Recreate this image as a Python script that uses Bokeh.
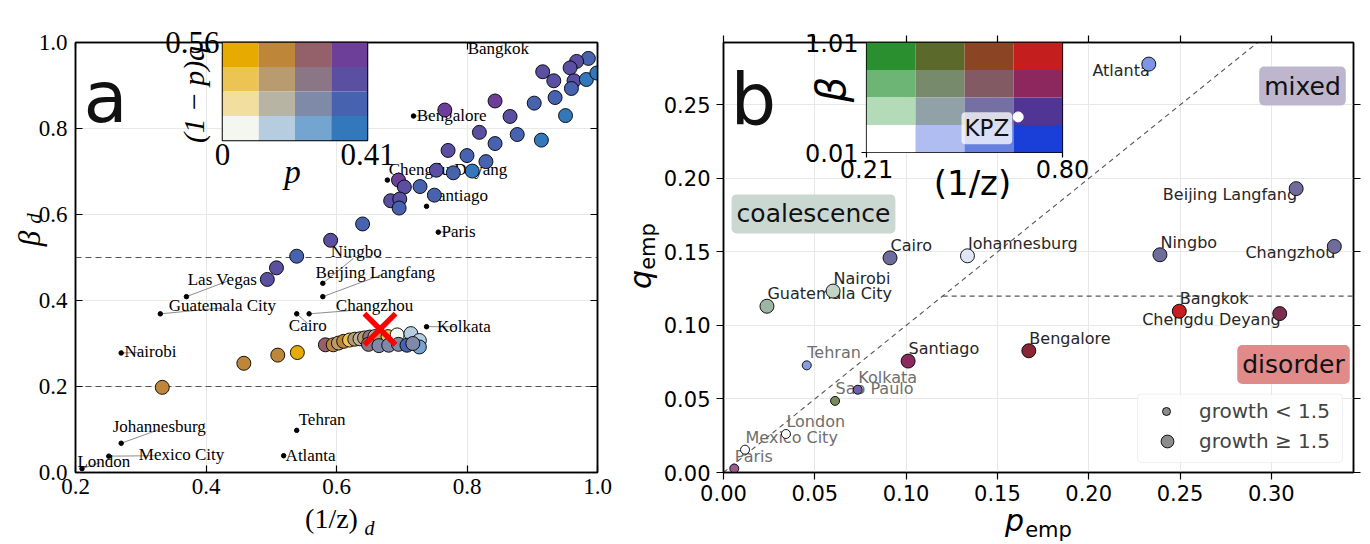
import numpy as np
from bokeh.plotting import figure
from bokeh.models import (ColumnDataSource, FixedTicker, PrintfTickFormatter, LinearAxis,
                          Label, Legend, LegendItem, BoxAnnotation, Span, GridBox, Range1d,
                          CustomLabelingPolicy)
from bokeh.core.properties import value
from bokeh.embed import file_html
from bokeh.resources import INLINE

SERIF = "Liberation Serif"
SANS = "DejaVu Sans"

# ---------------- palettes (rows: top -> bottom, cols: left -> right) ----------------
pal_a_rows = [
    ["#e6aa00", "#bd8639", "#94616a", "#6d3f98"],
    ["#ebc453", "#b89b6e", "#8a7685", "#5a4fa0"],
    ["#f2dfa0", "#b8b4a4", "#7e8aa8", "#4762ae"],
    ["#f4f6f0", "#b6cde0", "#74a4d0", "#3378ba"],
]
pal_b_rows = [
    ["#2a8f2e", "#5b6a2a", "#8b4524", "#c41e1e"],
    ["#6db574", "#788a6c", "#825a63", "#8c285e"],
    ["#b4dbb8", "#91a1a8", "#7470a3", "#513594"],
    ["#ffffff", "#b0bdf0", "#6680e0", "#1a3fd8"],
]

# ---------------- panel a data ----------------
a_inv_z = [0.986, 0.968, 0.958, 0.916, 0.933, 0.964, 0.983, 0.999, 0.960, 0.935, 0.903, 0.843,
           0.766, 0.866, 0.951, 0.819, 0.877, 0.843, 0.914, 0.771, 0.800, 0.829, 0.753, 0.779,
           0.808, 0.695, 0.704, 0.728, 0.683, 0.697, 0.696, 0.750, 0.640, 0.591, 0.539, 0.508,
           0.494,
           0.540, 0.510, 0.458, 0.333,
           0.583, 0.595, 0.603, 0.611, 0.620, 0.628, 0.636, 0.643, 0.651, 0.659, 0.666, 0.679,
           0.693, 0.714, 0.727, 0.727, 0.649, 0.665, 0.680, 0.695, 0.708, 0.717]
a_beta = [0.963, 0.956, 0.941, 0.932, 0.911, 0.911, 0.914, 0.929, 0.893, 0.872, 0.859, 0.864,
          0.843, 0.828, 0.830, 0.791, 0.786, 0.765, 0.773, 0.749, 0.737, 0.723, 0.703, 0.697,
          0.701, 0.680, 0.664, 0.665, 0.632, 0.636, 0.615, 0.645, 0.578, 0.540, 0.503, 0.476,
          0.449,
          0.279, 0.273, 0.254, 0.198,
          0.297, 0.297, 0.301, 0.305, 0.308, 0.310, 0.311, 0.313, 0.315, 0.316, 0.316, 0.316,
          0.320, 0.323, 0.307, 0.292, 0.298, 0.295, 0.296, 0.298, 0.296, 0.300]
a_bin = ["34", "24", "24", "24", "24", "24", "44", "44", "34", "34", "34", "14",
         "14", "24", "44", "24", "34", "34", "44", "24", "34", "34", "24", "34",
         "44", "14", "24", "34", "24", "24", "34", "34", "34", "24", "34", "24",
         "24",
         "11", "12", "12", "12",
         "13", "12", "22", "12", "21", "22", "32", "22", "23", "32", "22", "21",
         "41", "42", "42", "43", "23", "33", "33", "33", "34", "33"]

a_city = ["Bangkok", "Bengalore", "Chengdu Deyang", "Santiago", "Paris", "Ningbo",
          "Beijing Langfang", "Las Vegas", "Guatemala City", "Changzhou", "Cairo", "Kolkata",
          "Nairobi", "Tehran", "Johannesburg", "Mexico City", "Atlanta", "London"]
a_city_x = [0.800, 0.718, 0.678, 0.738, 0.756, 0.579, 0.579, 0.370, 0.330, 0.558, 0.539, 0.738,
            0.270, 0.539, 0.270, 0.251, 0.519, 0.210]
a_city_y = [1.005, 0.829, 0.680, 0.619, 0.559, 0.440, 0.409, 0.409, 0.369, 0.369, 0.369, 0.339,
            0.278, 0.098, 0.068, 0.038, 0.039, 0.009]
a_label_x = [0.801, 0.723, 0.680, 0.741, 0.761, 0.591, 0.568, 0.372, 0.343, 0.599, 0.527, 0.754,
             0.275, 0.542, 0.257, 0.297, 0.522, 0.203]
a_label_y = [0.986, 0.830, 0.705, 0.645, 0.560, 0.514, 0.465, 0.449, 0.389, 0.389, 0.341, 0.339,
             0.281, 0.124, 0.108, 0.042, 0.039, 0.025]
a_leader_x = [0.800, 0.745, 0.678, 0.738, 0.778, 0.626, 0.668, 0.433, 0.427, 0.642, 0.556, 0.783,
              0.300, 0.539, 0.330, 0.323, 0.519, 0.238]
a_leader_y = [1.005, 0.830, 0.680, 0.619, 0.560, 0.498, 0.459, 0.445, 0.383, 0.379, 0.346, 0.339,
              0.279, 0.098, 0.101, 0.039, 0.039, 0.023]

kpz_inv_z = [2 / 3]
kpz_beta = [1 / 3]

# ---------------- panel b data ----------------
b_city = ["Atlanta", "Beijing Langfang", "Changzhou", "Ningbo", "Johannesburg", "Cairo",
          "Nairobi", "Guatemala City", "Bangkok", "Chengdu Deyang", "Bengalore", "Santiago",
          "Tehran", "Kolkata", "Sao Paulo", "London", "Mexico City", "Paris"]
b_p = [0.2329, 0.3136, 0.3345, 0.2390, 0.1336, 0.0912, 0.0600, 0.0238, 0.2496, 0.3046,
       0.1672, 0.1011, 0.0456, 0.0735, 0.0611, 0.0342, 0.0118, 0.0059]
b_q = [0.2778, 0.1931, 0.1538, 0.1481, 0.1474, 0.1460, 0.1234, 0.1131, 0.1097, 0.1081,
       0.0828, 0.0758, 0.0729, 0.0563, 0.0487, 0.0262, 0.0155, 0.0027]
b_big = [True] * 12 + [False] * 6
b_color = ["#7e95e4", "#6f6c9c", "#6f6c9c", "#6f6c9c", "#dfe6f2", "#6f6c9c", "#c2d4c4",
           "#9db5a5", "#c41e1e", "#7a2d4f", "#8b2535", "#8a2a5e", "#8a9de0", "#6d60b0",
           "#7a8a5a", "#ffffff", "#ffffff", "#9b5a90"]
b_label_side = ["left", "left", "left", "above", "above", "above", "above", "above", "above",
                "left", "above", "above", "above", "above", "above", "above", "above", "above"]

a_xticks = [0.2, 0.4, 0.6, 0.8, 1.0]
a_yticks = [0.0, 0.2, 0.4, 0.6, 0.8, 1.0]
b_xticks = [0.0, 0.05, 0.10, 0.15, 0.20, 0.25, 0.30]
b_yticks = [0.0, 0.05, 0.10, 0.15, 0.20, 0.25]
a_dashed = [0.5, 0.2]
b_hline = 0.12

# ---------------- geometry ----------------
W, H = 1370, 544
A_LEFT, A_TOP, A_W, A_H = 75, 42, 522, 434
A_X0, A_X1, A_Y0, A_Y1 = 0.2, 1.0, 0.0, 1.0
B_OFF = 640
B_LEFT, B_TOP, B_W, B_H = 723, 38, 630, 434
B_X0, B_X1, B_Y0, B_Y1 = 0.0, 0.345, 0.0, 0.2925

HIDE_LABELS = CustomLabelingPolicy(code="for (const i of indices) indices.unset(i)")


def pxa(px, py):
    return (A_X0 + (px - A_LEFT) * (A_X1 - A_X0) / A_W,
            A_Y0 + (A_TOP + A_H - py) * (A_Y1 - A_Y0) / A_H)


def pxb(px, py):
    return (B_X0 + (px - B_LEFT) * (B_X1 - B_X0) / B_W,
            B_Y0 + (B_TOP + B_H - py) * (B_Y1 - B_Y0) / B_H)


def style_axis(ax, font, size, tin, tout, standoff, show=True):
    ax.major_tick_in = tin
    ax.major_tick_out = tout
    ax.minor_tick_line_color = None
    ax.major_tick_line_color = "black"
    ax.major_tick_line_width = 1.2
    ax.axis_line_color = "black"
    ax.axis_line_width = 1.5
    ax.major_label_text_font = font
    ax.major_label_text_color = "black"
    ax.major_label_standoff = standoff
    if show:
        ax.major_label_text_font_size = size
    else:
        ax.major_label_text_font_size = "2px"
        ax.major_label_policy = HIDE_LABELS


def lab(p, xy, text, font, size, style="normal", color="black", align="center",
        baseline="middle", angle=0.0, **kw):
    l = Label(x=xy[0], y=xy[1], text=text, text_font=font, text_font_size=size,
              text_font_style=style, text_color=color, text_align=align,
              text_baseline=baseline, angle=angle, **kw)
    p.add_layout(l)
    return l


# ================= panel a =================
pa = figure(width=640, height=H, x_range=Range1d(A_X0, A_X1), y_range=Range1d(A_Y0, A_Y1),
            output_backend="svg", toolbar_location=None,
            min_border_left=A_LEFT, min_border_right=640 - A_LEFT - A_W,
            min_border_top=A_TOP, min_border_bottom=H - A_TOP - A_H)
pa.outline_line_color = "black"
pa.outline_line_width = 1.5
pa.add_layout(LinearAxis(), "above")
pa.add_layout(LinearAxis(), "right")
for ax in pa.xaxis:
    ax.ticker = FixedTicker(ticks=a_xticks)
    ax.formatter = PrintfTickFormatter(format="%.1f")
for ax in pa.yaxis:
    ax.ticker = FixedTicker(ticks=a_yticks)
    ax.formatter = PrintfTickFormatter(format="%.1f")
style_axis(pa.below[0], SERIF, "23px", 7, 0, 6)
style_axis(pa.left[0], SERIF, "23px", 7, 0, 8)
style_axis(pa.above[0], SERIF, "23px", 7, 0, 2, show=False)
style_axis(pa.right[0], SERIF, "23px", 7, 0, 2, show=False)
pa.grid.grid_line_color = "#e8e8e8"
pa.grid.grid_line_width = 1

for yv in a_dashed:
    pa.add_layout(Span(location=yv, dimension="width", line_color="#555555",
                       line_dash="6 4", line_width=1.1, level="underlay"))

city_src = ColumnDataSource(dict(x=a_city_x, y=a_city_y, lx=a_label_x, ly=a_label_y,
                                 ex=a_leader_x, ey=a_leader_y, name=a_city))
pa.segment(x0="x", y0="y", x1="ex", y1="ey", source=city_src, line_color="#808080",
           line_width=0.9)
pa.scatter(x="x", y="y", source=city_src, size=4.5, fill_color="black", line_color="black")
pa.text(x="lx", y="ly", text="name", source=city_src, text_font=value(SERIF),
        text_font_size="17px", text_align="left", text_baseline="middle", text_color="black")

a_colors = [pal_a_rows[int(b[0]) - 1][int(b[1]) - 1] for b in a_bin]
pa.scatter(x=a_inv_z, y=a_beta, size=14, fill_color=a_colors, line_color="black",
           line_width=0.9)
pa.scatter(x=kpz_inv_z, y=kpz_beta, marker="x", size=44, line_color="#ff0000", line_width=5.5)

lab(pa, pxa(83, 97), "a", SANS, "72px", align="left", baseline="alphabetic", color="#111111")

# ================= inset a =================
ia = figure(width=250, height=190, x_range=Range1d(0, 0.41), y_range=Range1d(0, 0.56),
            output_backend="svg", toolbar_location=None,
            min_border_left=72, min_border_right=33, min_border_top=18, min_border_bottom=50,
            background_fill_color=None, border_fill_color=None)
ia.outline_line_color = "black"
ia.outline_line_width = 1.5
ia.grid.visible = False
xe = np.linspace(0, 0.41, 5)
ye = np.linspace(0, 0.56, 5)
ql, qr, qb, qt, qc = [], [], [], [], []
for r in range(4):
    for c in range(4):
        ql.append(xe[c]); qr.append(xe[c + 1])
        qb.append(ye[3 - r]); qt.append(ye[4 - r])
        qc.append(pal_a_rows[r][c])
ia.quad(left=ql, right=qr, bottom=qb, top=qt, fill_color=qc, line_color=None)
ia.xaxis.ticker = FixedTicker(ticks=[0, 0.41])
ia.xaxis.major_label_overrides = {0: "0", 0.41: "0.41"}
ia.yaxis.ticker = FixedTicker(ticks=[0.56])
ia.yaxis.major_label_overrides = {0.56: "0.56"}
for ax in (ia.xaxis[0], ia.yaxis[0]):
    style_axis(ax, SERIF, "31px", 0, 0, 3)
    ax.major_tick_line_color = None
    ax.axis_line_color = None

# ================= panel b =================
pb = figure(width=730, height=H, x_range=Range1d(B_X0, B_X1), y_range=Range1d(B_Y0, B_Y1),
            output_backend="svg", toolbar_location=None,
            min_border_left=B_LEFT - B_OFF, min_border_right=730 - (B_LEFT - B_OFF) - B_W,
            min_border_top=B_TOP, min_border_bottom=H - B_TOP - B_H)
pb.outline_line_color = "black"
pb.outline_line_width = 1.5
pb.add_layout(LinearAxis(), "above")
pb.add_layout(LinearAxis(), "right")
for ax in pb.xaxis:
    ax.ticker = FixedTicker(ticks=b_xticks)
    ax.formatter = PrintfTickFormatter(format="%.2f")
for ax in pb.yaxis:
    ax.ticker = FixedTicker(ticks=b_yticks)
    ax.formatter = PrintfTickFormatter(format="%.2f")
style_axis(pb.below[0], SANS, "21px", 0, 7, 5)
style_axis(pb.left[0], SANS, "21px", 0, 7, 6)
style_axis(pb.above[0], SANS, "21px", 0, 7, 2, show=False)
style_axis(pb.right[0], SANS, "21px", 0, 7, 2, show=False)
pb.grid.grid_line_color = "#e8e8e8"
pb.grid.grid_line_width = 1

diag = [B_X0, B_X1]
pb.line(x=diag, y=diag, line_color="#555555", line_dash="5 4", line_width=1.1)
pb.line(x=[b_hline, B_X1], y=[b_hline, b_hline], line_color="#555555", line_dash="5 4",
        line_width=1.1)

dxp = (B_X1 - B_X0) / B_W
dyp = (B_Y1 - B_Y0) / B_H
for side, align, ox, oy in (("above", "left", 0.5, 12.5), ("left", "right", 1.0, -6.0)):
    idx = [i for i, s in enumerate(b_label_side) if s == side]
    src = ColumnDataSource(dict(
        x=[b_p[i] + ox * dxp for i in idx],
        y=[b_q[i] + oy * dyp for i in idx],
        t=[b_city[i] for i in idx],
        c=["#262626" if b_big[i] else "#6e6e6e" for i in idx]))
    pb.text(x="x", y="y", text="t", source=src, text_font=value(SANS),
            text_font_size="16px", text_align=align, text_baseline="middle", text_color="c")

proxies = {}
for big, sz in ((False, 9), (True, 14)):
    idx = [i for i, b in enumerate(b_big) if b == big]
    xs = [b_p[i] for i in idx]
    ys = [b_q[i] for i in idx]
    pb.scatter(x=xs, y=ys, size=sz, fill_color=[b_color[i] for i in idx],
               line_color="black", line_width=0.9)
    proxies[big] = pb.scatter(x=xs, y=ys, size=sz, fill_color="#8c8c8c",
                              line_color="black", line_width=0.9, visible=False)

lab(pb, pxb(730, 95), "b", SANS, "72px", align="left", baseline="alphabetic", color="#111111")

for txt, cx, cy, bg in (("coalescence", 813, 211, "#cbd8d1"), ("mixed", 1302, 82, "#bdb6cd"),
                        ("disorder", 1293, 363, "#e08a8a")):
    lab(pb, pxb(cx, cy), txt, SANS, "25px", color="#111111", background_fill_color=bg,
        background_fill_alpha=1.0, border_radius=5, padding=5)

# legend
l0 = pxb(1137, 462)
l1 = pxb(1342, 393)
pb.add_layout(BoxAnnotation(left=l0[0], right=l1[0], bottom=l0[1], top=l1[1],
                            fill_color="white", fill_alpha=0.85, line_color="#cccccc",
                            line_width=1, border_radius=4))
leg1 = Legend(items=[LegendItem(label="growth < 1.5", renderers=[proxies[False]], index=0)],
              location=(1156 - B_LEFT, (B_TOP + B_H) - 423), glyph_width=20, glyph_height=20,
              label_standoff=23, padding=0, margin=0, spacing=0,
              background_fill_alpha=0, border_line_color=None, inactive_fill_alpha=0,
              label_text_font=SANS, label_text_font_size="20px")
leg2 = Legend(items=[LegendItem(label="growth ≥ 1.5", renderers=[proxies[True]], index=0)],
              location=(1151 - B_LEFT, (B_TOP + B_H) - 457), glyph_width=32, glyph_height=32,
              label_standoff=16, padding=0, margin=0, spacing=0,
              background_fill_alpha=0, border_line_color=None, inactive_fill_alpha=0,
              label_text_font=SANS, label_text_font_size="20px")
pb.add_layout(leg1)
pb.add_layout(leg2)

# ================= inset b =================
IB_L, IB_T, IB_W, IB_H = 866, 17, 196, 135
ib = figure(width=300, height=205, x_range=Range1d(0.21, 0.80), y_range=Range1d(0.01, 1.01),
            output_backend="svg", toolbar_location=None,
            min_border_left=IB_L - 790, min_border_right=300 - (IB_L - 790) - IB_W,
            min_border_top=IB_T, min_border_bottom=205 - IB_T - IB_H,
            background_fill_color=None, border_fill_color=None)
ib.outline_line_color = "black"
ib.outline_line_width = 1.2
ib.grid.visible = False
xe = np.linspace(0.21, 0.80, 5)
ye = np.linspace(0.01, 1.01, 5)
ql, qr, qb, qt, qc = [], [], [], [], []
for r in range(4):
    for c in range(4):
        ql.append(xe[c]); qr.append(xe[c + 1])
        qb.append(ye[3 - r]); qt.append(ye[4 - r])
        qc.append(pal_b_rows[r][c])
ib.quad(left=ql, right=qr, bottom=qb, top=qt, fill_color=qc, line_color=None)
ib.xaxis.ticker = FixedTicker(ticks=[0.21, 0.80])
ib.xaxis.formatter = PrintfTickFormatter(format="%.2f")
ib.yaxis.ticker = FixedTicker(ticks=[0.01, 1.01])
ib.yaxis.formatter = PrintfTickFormatter(format="%.2f")
style_axis(ib.xaxis[0], SANS, "24px", 0, 5, 2)
style_axis(ib.yaxis[0], SANS, "24px", 0, 5, 3)
ib.xaxis.axis_line_color = None
ib.yaxis.axis_line_color = None
ixp = (0.80 - 0.21) / IB_W
iyp = (1.01 - 0.01) / IB_H
lab(ib, (kpz_inv_z[0] - 6 * ixp, kpz_beta[0] - 14 * iyp), "KPZ", SANS, "23px",
    align="right", color="#111111", background_fill_color="white",
    background_fill_alpha=0.75, border_radius=4, padding=3)
ib.scatter(x=kpz_inv_z, y=kpz_beta, size=10, fill_color="white", line_color="white")

# ================= overlay for axis titles (outside the frames) =================
ov = figure(width=W, height=H, x_range=Range1d(0, W), y_range=Range1d(0, H),
            output_backend="svg", toolbar_location=None, title=None,
            x_axis_type=None, y_axis_type=None,
            min_border=0, min_border_left=0, min_border_right=0, min_border_top=0,
            min_border_bottom=0, background_fill_color=None, border_fill_color=None)
ov.outline_line_color = None
ov.grid.visible = False

axis_titles = [
    # text, px, py, font, size, style, angle
    ("β", 29, 238, SERIF, "31px", "italic", np.pi / 2),
    ("d", 33, 218, SERIF, "21px", "italic", np.pi / 2),
    ("(1/z)", 331, 518, SERIF, "28px", "normal", 0.0),
    ("d", 369, 527, SERIF, "20px", "italic", 0.0),
    ("p", 292, 171, SERIF, "33px", "italic", 0.0),
    ("(1\u2009\u2212\u2009p)q", 193, 94, SERIF, "30px", "italic", np.pi / 2),
    ("q", 640, 279, SANS, "30px", "italic", np.pi / 2),
    ("emp", 647, 246, SANS, "21px", "normal", np.pi / 2),
    ("p", 1014, 520, SANS, "30px", "italic", 0.0),
    ("emp", 1048, 529, SANS, "21px", "normal", 0.0),
    ("β", 830, 89, SANS, "40px", "italic", np.pi / 2),
    ("(1/z)", 972, 182, SANS, "34px", "normal", 0.0),
]
for t, px, py, f, s, st, ang in axis_titles:
    ov.text(x=[px], y=[H - py], text=[t], text_font=value(f), text_font_size=s,
            text_font_style=st, angle=ang, text_align="center", text_baseline="middle",
            text_color="black")

grid = GridBox(children=[(pa, 1, 1, 3, 3), (pb, 1, 4, 3, 3), (ia, 1, 2, 1, 1),
                         (ib, 1, 5, 2, 1), (ov, 0, 0, 5, 8)],
               rows=["0px", "190px", "15px", "339px", "0px"],
               cols=["0px", "150px", "250px", "240px", "150px", "300px", "280px", "0px"],
               spacing=0)

open("out.html", "w").write(file_html(grid, INLINE))
